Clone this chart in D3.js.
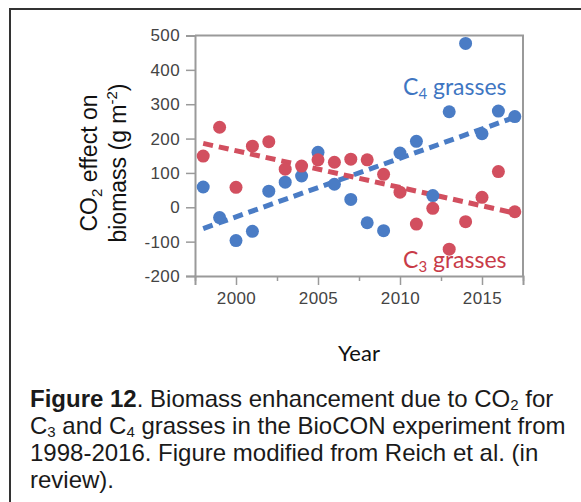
<!DOCTYPE html>
<html>
<head>
<meta charset="utf-8">
<script src="https://cdn.jsdelivr.net/npm/d3@7"></script>
<style>
  body { margin: 0; background: #fff; }
  svg { display: block; }
</style>
</head>
<body>
<div id="chart"></div>
<script>
// data
let years = [1998, 1999, 2000, 2001, 2002, 2003, 2004, 2005, 2006, 2007,
             2008, 2009, 2010, 2011, 2012, 2013, 2014, 2015, 2016, 2017];
let c4Values = [59, -30, -97, -70, 47, 73, 91, 160, 67, 23,
                -45, -68, 158, 192, 34, 278, 477, 214, 280, 264];
let c3Values = [149, 233, 58, 178, 191, 111, 120, 138, 131, 140,
                138, 96, 44, -49, -3, -122, -42, 29, 104, -13];
// dashed trend lines (end points)
let trendYears = [1998, 2017];
let c4Trend = [-62, 262];
let c3Trend = [186, -17];

let yTicks = [-200, -100, 0, 100, 200, 300, 400, 500];
let xMajor = [2000, 2005, 2010, 2015];
let xMinor = [1997.5, 2002.5, 2007.5, 2012.5, 2017.5];

let blue = '#4a7cc5';
let red = '#d24f5f';

let width = 581, height = 502;
let margin = {top: 35.5, left: 195, right: 58, bottom: 226};

let svg = d3.select('#chart').append('svg').attr('width', width).attr('height', height);

// outer frame
svg.append('rect').attr('x', 10).attr('y', 9).attr('width', 600).attr('height', 600)
  .attr('fill', 'none').attr('stroke', '#333').attr('stroke-width', 2);

let x = d3.scaleLinear().domain([1997.5, 2017.5]).range([margin.left, width - margin.right]);
let y = d3.scaleLinear().domain([-200, 500]).range([height - margin.bottom, margin.top]);

let axisColor = '#9a9a9a';
let fmt = d => String(d);  // plain hyphen for negatives, like the original

// plot box top / right
svg.append('path')
  .attr('d', 'M' + x(1997.5) + ',' + y(500) + 'H' + x(2017.5) + 'V' + y(-200))
  .attr('fill', 'none').attr('stroke', axisColor).attr('stroke-width', 2);

svg.append('g').attr('transform', 'translate(' + margin.left + ',0)')
  .call(d3.axisLeft(y).tickValues(yTicks).tickSize(9).tickPadding(6).tickFormat(fmt));
svg.append('g').attr('transform', 'translate(0,' + y(-200) + ')')
  .call(d3.axisBottom(x).tickValues(xMajor).tickSize(9).tickPadding(7).tickFormat(fmt));
svg.append('g').attr('transform', 'translate(0,' + y(-200) + ')')
  .call(d3.axisBottom(x).tickValues(xMinor).tickSize(5).tickFormat(''))
  .select('.domain').remove();

svg.selectAll('.domain').attr('stroke', axisColor).attr('stroke-width', 2);
svg.selectAll('.tick line').attr('stroke', axisColor).attr('stroke-width', 1.5);
svg.selectAll('.tick text').attr('fill', '#444')
  .style('font-family', 'Liberation Sans, Arial, sans-serif').style('font-size', '17px')
  .style('letter-spacing', '0.4px');

// trend lines
let line = d3.line().x(d => x(d[0])).y(d => y(d[1]));
[[c4Trend, blue], [c3Trend, red]].forEach(t => {
  svg.append('path')
    .datum(trendYears.map((yr, i) => [yr, t[0][i]]))
    .attr('d', line)
    .attr('fill', 'none').attr('stroke', t[1]).attr('stroke-width', 5)
    .attr('stroke-dasharray', '10,6');
});

// points
svg.append('g').selectAll('circle').data(years).enter().append('circle')
  .attr('cx', d => x(d)).attr('cy', (d, i) => y(c4Values[i])).attr('r', 6.5).attr('fill', blue);
svg.append('g').selectAll('circle').data(years).enter().append('circle')
  .attr('cx', d => x(d)).attr('cy', (d, i) => y(c3Values[i])).attr('r', 6.5).attr('fill', red);

// series labels
let labelFont = 'Lato, "Open Sans", sans-serif';
let c4Label = svg.append('text').attr('x', 403).attr('y', 95).attr('fill', '#3f76c2')
  .style('font-family', labelFont).style('font-size', '23px');
c4Label.append('tspan').text('C');
c4Label.append('tspan').attr('dy', 4).style('font-size', '15px').text('4');
c4Label.append('tspan').attr('dy', -4).text(' grasses');

let c3Label = svg.append('text').attr('x', 403).attr('y', 268).attr('fill', '#c83b48')
  .style('font-family', labelFont).style('font-size', '23px');
c3Label.append('tspan').text('C');
c3Label.append('tspan').attr('dy', 4).style('font-size', '15px').text('3');
c3Label.append('tspan').attr('dy', -4).text(' grasses');

// axis titles
let titleFont = 'Liberation Sans, Arial, sans-serif';
let yTitle = svg.append('g').attr('transform', 'translate(97,163) rotate(-90)');
let t1 = yTitle.append('text').attr('text-anchor', 'middle').attr('fill', '#111')
  .style('font-family', titleFont).style('font-size', '23px');
t1.append('tspan').text('CO');
t1.append('tspan').attr('dy', 5).style('font-size', '15px').text('2');
t1.append('tspan').attr('dy', -5).text(' effect on');
let t2 = yTitle.append('text').attr('text-anchor', 'middle').attr('y', 29).attr('fill', '#111')
  .style('font-family', titleFont).style('font-size', '23px');
t2.append('tspan').text('biomass (g m');
t2.append('tspan').attr('dy', -9).style('font-size', '15px').text('-2');
t2.append('tspan').attr('dy', 9).text(')');

svg.append('text').attr('x', (x(1997.5) + x(2017.5)) / 2).attr('y', 361)
  .attr('text-anchor', 'middle').attr('fill', '#111')
  .style('font-family', labelFont).style('font-size', '22px').text('Year');

// caption
let capFont = 'Liberation Sans, Arial, sans-serif';
let cap = svg.append('g').style('font-family', capFont).style('font-size', '24px').attr('fill', '#1a1a1a');
let l1 = cap.append('text').attr('x', 30).attr('y', 407);
l1.append('tspan').style('font-weight', 'bold').text('Figure 12');
l1.append('tspan').text('. Biomass enhancement due to CO');
l1.append('tspan').attr('dy', 3).style('font-size', '15px').text('2');
l1.append('tspan').attr('dy', -3).text(' for');
let l2 = cap.append('text').attr('x', 30).attr('y', 434);
l2.append('tspan').text('C');
l2.append('tspan').attr('dy', 3).style('font-size', '15px').text('3');
l2.append('tspan').attr('dy', -3).text(' and C');
l2.append('tspan').attr('dy', 3).style('font-size', '15px').text('4');
l2.append('tspan').attr('dy', -3).text(' grasses in the BioCON experiment from');
cap.append('text').attr('x', 30).attr('y', 461).text('1998-2016. Figure modified from Reich et al. (in');
cap.append('text').attr('x', 30).attr('y', 488).text('review).');
</script>
</body>
</html>
